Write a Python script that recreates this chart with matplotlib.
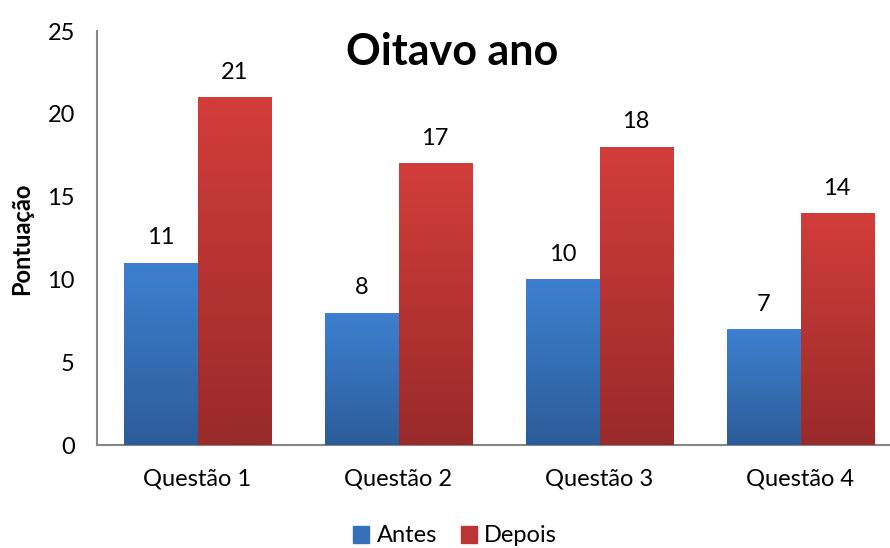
import matplotlib
matplotlib.use('Agg')
import matplotlib.pyplot as plt
import numpy as np
from matplotlib.colors import LinearSegmentedColormap

# dados
categorias = ['Questão 1', 'Questão 2', 'Questão 3', 'Questão 4']
antes = [11, 8, 10, 7]
depois = [21, 17, 18, 14]
series = ['Antes', 'Depois']

plt.rcParams['font.family'] = ['Lato', 'DejaVu Sans']

fig = plt.figure(figsize=(8.9, 5.48), dpi=100)
ax = fig.add_axes([97 / 890, 1 - 445 / 548, 804 / 890, (445 - 31) / 548])

x = np.arange(len(categorias))
w = 0.365

azul = LinearSegmentedColormap.from_list('azul', ['#2c5c99', '#3d80d0'])
verm = LinearSegmentedColormap.from_list('verm', ['#992a2a', '#d23d3a'])
grad = np.linspace(0, 1, 256).reshape(-1, 1)


def barras(pos, vals, cmap, label):
    bars = ax.bar(pos, vals, w, color=cmap(0.6), label=label, zorder=2)
    for b in bars:
        x0, y0 = b.get_x(), b.get_y()
        bw, bh = b.get_width(), b.get_height()
        im = ax.imshow(grad, cmap=cmap, aspect='auto', origin='lower',
                       extent=(x0, x0 + bw, y0, y0 + bh), zorder=3)
        im.set_clip_path(b)
        ax.annotate(str(int(bh)), (x0 + bw / 2, bh), xytext=(0, 18),
                    textcoords='offset points', ha='center', va='center',
                    fontsize=17)
    return bars


barras(x - w / 2, antes, azul, series[0])
barras(x + w / 2, depois, verm, series[1])

ax.set_xlim(-0.5, 3.5)
ax.set_ylim(0, 25)
ax.set_yticks([0, 5, 10, 15, 20, 25])
ax.set_xticks(x)
ax.set_xticklabels(categorias)
ax.tick_params(axis='both', length=0, labelsize=17)
ax.tick_params(axis='y', pad=16)
ax.tick_params(axis='x', pad=17)
for s in ['top', 'right']:
    ax.spines[s].set_visible(False)
for s in ['left', 'bottom']:
    ax.spines[s].set_color('#868686')
    ax.spines[s].set_linewidth(1.5)

fig.text(22 / 890, 1 - 239 / 548, 'Pontuação', rotation=90, ha='center',
         va='center', fontsize=17, fontweight='bold')
fig.text(452 / 890, 1 - 52 / 548, 'Oitavo ano', ha='center', va='center',
         fontsize=31, fontweight='bold')

h1 = plt.Rectangle((0, 0), 1, 1, color='#3670b8')
h2 = plt.Rectangle((0, 0), 1, 1, color='#bb3534')
fig.legend([h1, h2], series, loc='center', bbox_to_anchor=(455 / 890, 1 - 536 / 548),
           ncol=2, frameon=False, fontsize=17, handlelength=0.7, handleheight=0.7,
           handletextpad=0.3, columnspacing=1.0)

fig.savefig('out.png', dpi=100)
